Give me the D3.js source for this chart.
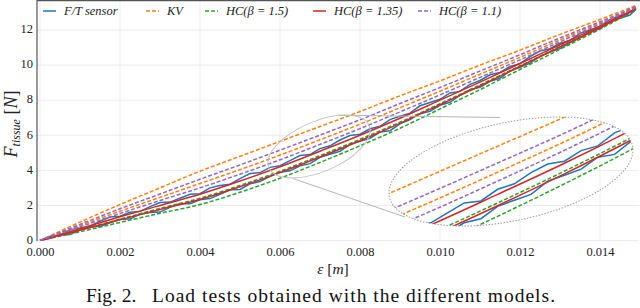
<!DOCTYPE html>
<html><head><meta charset="utf-8">
<script src="https://cdn.jsdelivr.net/npm/d3@7"></script>
<style>
html,body{margin:0;padding:0;background:#fff;}
svg{display:block;font-family:"Liberation Serif","DejaVu Serif",serif;}
</style></head>
<body><svg id="c" width="640" height="308"></svg>
<script>
// ---- data ----
const strain = [0, .001, .002, .003, .004, .005, .006, .007, .008, .009, .010, .011, .012, .013, .014, .0149];
const kvLoad     = [0, 1.05, 2.05, 3.00, 3.95, 4.80, 5.65, 6.50, 7.35, 8.25, 9.10, 10.00, 10.85, 11.75, 12.60, 13.40];
const kvUnload   = [0, 0.85, 1.67, 2.46, 3.25, 4.04, 4.87, 5.74, 6.63, 7.57, 8.51, 9.48, 10.44, 11.44, 12.40, 13.31];
const hc15Load   = [0, 0.60, 1.22, 1.83, 2.41, 3.14, 3.95, 4.84, 5.77, 6.75, 7.80, 8.87, 9.96, 11.06, 12.15, 13.20];
const hc15Unload = [0, 0.50, 1.03, 1.55, 2.05, 2.75, 3.55, 4.45, 5.40, 6.40, 7.50, 8.60, 9.75, 10.90, 12.05, 13.15];
const hc135Load  = [0, 0.67, 1.35, 2.00, 2.64, 3.39, 4.20, 5.09, 6.00, 6.97, 8.00, 9.03, 10.09, 11.16, 12.22, 13.23];
const hc135Unload= [0, 0.58, 1.18, 1.77, 2.34, 3.06, 3.87, 4.76, 5.69, 6.68, 7.74, 8.81, 9.92, 11.03, 12.13, 13.19];
const hc11Load   = [0, 0.92, 1.81, 2.65, 3.49, 4.31, 5.15, 6.01, 6.88, 7.81, 8.72, 9.66, 10.59, 11.55, 12.47, 13.34];
const hc11Unload = [0, 0.78, 1.54, 2.28, 3.00, 3.78, 4.60, 5.48, 6.38, 7.33, 8.30, 9.30, 10.30, 11.33, 12.33, 13.28];
// F/T sensor measurements (dense sampling, every 0.00025 m, last at 0.0149)
const strainFine = d3.range(0, 60).map(i => i * 0.00025).concat([0.0149]);
const ftLoad = [0.00,0.24,0.31,0.62,0.72,0.81,1.10,1.34,1.38,1.61,1.66,1.93,2.17,2.19,2.41,2.64,2.67,3.00,3.14,3.21,
  3.53,3.82,3.87,4.17,4.26,4.55,4.84,4.90,5.24,5.40,5.73,5.98,6.06,6.37,6.51,6.89,7.08,7.26,7.68,7.87,
  8.05,8.41,8.50,8.90,9.12,9.45,9.58,9.92,10.08,10.48,10.80,10.93,11.25,11.41,11.81,12.00,12.21,12.60,12.83,13.02,13.24];
const ftUnload = [0.00,0.12,0.32,0.34,0.59,0.81,0.80,1.01,1.21,1.22,1.51,1.60,1.62,1.89,2.11,2.09,2.32,2.39,2.64,2.89,
  2.91,3.23,3.36,3.66,3.89,3.97,4.26,4.38,4.74,4.92,5.09,5.48,5.65,5.83,6.18,6.26,6.65,6.89,7.23,7.36,
  7.71,7.88,8.28,8.60,8.73,9.07,9.25,9.67,9.88,10.11,10.50,10.74,10.94,11.27,11.55,11.89,12.07,12.47,12.67,12.85,13.18];
const xTicks = [0, .002, .004, .006, .008, .010, .012, .014];
const yTicks = [0, 2, 4, 6, 8, 10, 12];
const legendLabels = ["F/T sensor", "KV", "HC(β = 1.5)", "HC(β = 1.35)", "HC(β = 1.1)"];
const colors = ["#1f77b4", "#ff7f0e", "#2ca02c", "#d62728", "#9467bd"];

const series = [
  {xs: strainFine, ys: ftLoad, c: 0, dash: null, noisy: true},
  {xs: strainFine, ys: ftUnload, c: 0, dash: null, noisy: true},
  {xs: strain, ys: kvLoad, c: 1, dash: "4,2"},
  {xs: strain, ys: kvUnload, c: 1, dash: "4,2"},
  {xs: strain, ys: hc15Load, c: 2, dash: "4,2"},
  {xs: strain, ys: hc15Unload, c: 2, dash: "4,2"},
  {xs: strain, ys: hc135Load, c: 3, dash: null},
  {xs: strain, ys: hc135Unload, c: 3, dash: null},
  {xs: strain, ys: hc11Load, c: 4, dash: "4,2"},
  {xs: strain, ys: hc11Unload, c: 4, dash: "4,2"},
];

// ---- layout ----
const svg = d3.select("#c");
const L = 37, R = 639, T = 0.5, B = 241;
const x = d3.scaleLinear().domain([0, 0.014]).range([40, 600]);
const y = d3.scaleLinear().domain([0, 12]).range([240.5, 30]);

svg.append("clipPath").attr("id","plotclip").append("rect")
  .attr("x", L).attr("y", T).attr("width", R - L).attr("height", B - T);

// grid
const g = svg.append("g");
g.selectAll("line.vg").data(xTicks).join("line")
  .attr("x1", d => x(d)).attr("x2", d => x(d)).attr("y1", T).attr("y2", B)
  .attr("stroke", "#ebebeb").attr("stroke-width", 1);
g.selectAll("line.hg").data(yTicks).join("line")
  .attr("y1", d => y(d)).attr("y2", d => y(d)).attr("x1", L).attr("x2", R)
  .attr("stroke", "#ebebeb").attr("stroke-width", 1);

// axes
const xAxis = d3.axisBottom(x).tickValues(xTicks).tickFormat(d3.format(".3f")).tickSize(0).tickPadding(6);
const yAxis = d3.axisLeft(y).tickValues(yTicks).tickFormat(d3.format("d")).tickSize(0).tickPadding(4);
const ax = svg.append("g").attr("transform", `translate(0,${B})`).call(xAxis);
const ay = svg.append("g").attr("transform", `translate(${L},0)`).call(yAxis);
[ax, ay].forEach(a => {
  a.select(".domain").remove();
  a.selectAll("text").attr("font-family", "Liberation Serif, serif").attr("font-size", 12.5).attr("fill", "#222");
});
ay.selectAll("text").attr("dy", "0.22em");

// spines
svg.append("line").attr("x1", L).attr("x2", L).attr("y1", 0).attr("y2", B).attr("stroke", "#555").attr("stroke-width", 1.2);
svg.append("line").attr("x1", L).attr("x2", 640).attr("y1", 0.6).attr("y2", 0.6).attr("stroke", "#555").attr("stroke-width", 1.2);

// lines
function drawSeries(parent, xs, ys, clipId) {
  const gg = parent.append("g").attr("clip-path", `url(#${clipId})`);
  series.forEach(s => {
    const pts = s.xs.map((v, i) => [v, s.ys[i]]);
    const line = d3.line().x(d => xs(d[0])).y(d => ys(d[1]))
      .curve(s.noisy ? d3.curveLinear : d3.curveMonotoneX);
    gg.append("path").attr("d", line(pts)).attr("fill", "none")
      .attr("stroke", colors[s.c]).attr("stroke-width", 1.5)
      .attr("stroke-dasharray", s.dash);
  });
}
drawSeries(svg, x, y, "plotclip");

// ---- zoom inset ----
const small = {cx: 319, cy: 146.5, a: 54.4, b: 25.1, rot: -23};
const big = {cx: 511, cy: 171.5, a: 124.2, b: 49.2, rot: -11.9};
const eps0 = 0.0072, F0 = 5.76, sx = 1.67, sy = 1.95;
const xi = d3.scaleLinear().domain([eps0 - 122 / (40000 * sx), eps0 + 122 / (40000 * sx)]).range([big.cx - 122, big.cx + 122]);
const yi = d3.scaleLinear().domain([F0 - 54.5 / (17.54 * sy), F0 + 54.5 / (17.54 * sy)]).range([big.cy + 54.5, big.cy - 54.5]);

svg.append("clipPath").attr("id","insetclip").append("ellipse")
  .attr("cx", 0).attr("cy", 0).attr("rx", big.a).attr("ry", big.b)
  .attr("transform", `translate(${big.cx},${big.cy}) rotate(${big.rot})`);

svg.append("line").attr("x1", 338).attr("y1", 115.2).attr("x2", 500).attr("y2", 117.5)
  .attr("stroke", "#b5b5b5").attr("stroke-width", 1);
svg.append("line").attr("x1", 293).attr("y1", 178.5).attr("x2", 405).attr("y2", 217)
  .attr("stroke", "#b5b5b5").attr("stroke-width", 1);
svg.append("ellipse").attr("cx", 0).attr("cy", 0).attr("rx", small.a).attr("ry", small.b)
  .attr("transform", `translate(${small.cx},${small.cy}) rotate(${small.rot})`)
  .attr("fill", "none").attr("stroke", "#c4c4c4").attr("stroke-width", 1);

drawSeries(svg, xi, yi, "insetclip");

svg.append("ellipse").attr("cx", 0).attr("cy", 0).attr("rx", big.a).attr("ry", big.b)
  .attr("transform", `translate(${big.cx},${big.cy}) rotate(${big.rot})`)
  .attr("fill", "none").attr("stroke", "#999").attr("stroke-width", 1).attr("stroke-dasharray", "1.5,1.5");

// ---- legend ----
const legX = [43, 146, 205, 313, 418];
const lg = svg.append("g");
legendLabels.forEach((lab, i) => {
  const dash = (i === 0 || i === 3) ? null : "4,2";
  lg.append("line").attr("x1", legX[i]).attr("x2", legX[i] + 13).attr("y1", 11).attr("y2", 11)
    .attr("stroke", colors[i]).attr("stroke-width", 1.5).attr("stroke-dasharray", dash);
  lg.append("text").attr("x", legX[i] + 21).attr("y", 15).attr("font-size", 12.5)
    .attr("font-style", "italic").attr("fill", "#222").text(lab);
});

// ---- axis labels ----
const xl = svg.append("text").attr("x", 333).attr("y", 274).attr("text-anchor", "middle")
  .attr("font-size", 15.5).attr("fill", "#222");
xl.append("tspan").attr("font-style", "italic").text("ε");
xl.append("tspan").text(" [");
xl.append("tspan").attr("font-style", "italic").text("m");
xl.append("tspan").text("]");

const yl = svg.append("text").attr("transform", "translate(17,124) rotate(-90)")
  .attr("text-anchor", "middle").attr("font-size", 18).attr("fill", "#222");
yl.append("tspan").attr("font-style", "italic").text("F");
yl.append("tspan").attr("font-style", "italic").attr("font-size", 12).attr("dy", 3).text("tissue");
yl.append("tspan").attr("dy", -3).text(" [");
yl.append("tspan").attr("font-style", "italic").text("N");
yl.append("tspan").text("]");

// caption
svg.append("text").attr("x", 86).attr("y", 302)
  .attr("font-size", 19.5).attr("fill", "#111").text("Fig. 2.");
svg.append("text").attr("x", 152).attr("y", 302)
  .attr("font-size", 19.5).attr("fill", "#111")
  .attr("textLength", 403).attr("lengthAdjust", "spacing")
  .text("Load tests obtained with the different models.");
</script></body></html>
